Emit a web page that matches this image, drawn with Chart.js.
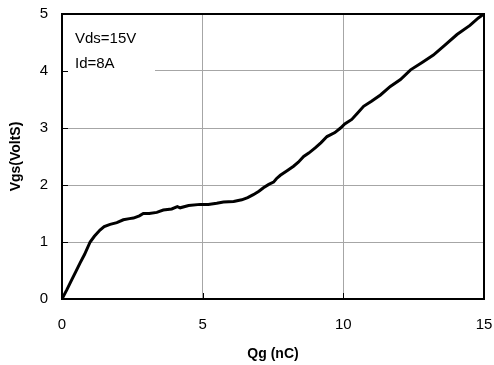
<!DOCTYPE html>
<html>
<head>
<meta charset="utf-8">
<script src="https://cdn.jsdelivr.net/npm/chart.js@4"></script>
<style>
  html, body { margin: 0; padding: 0; background: #fff; }
  #wrap { width: 494px; height: 365px; position: relative; }
</style>
</head>
<body>
<div id="wrap"><canvas id="c"></canvas></div>
<script>
// Gate charge Qg (nC)
const qg = [0, 0.17, 0.34, 0.5, 0.64, 0.8, 1.0, 1.15, 1.35, 1.5, 1.71, 1.95, 2.18, 2.4, 2.54, 2.75, 2.89, 3.1, 3.37, 3.6, 3.9, 4.1, 4.2, 4.5, 4.91, 5.2, 5.5, 5.74, 6.1, 6.39, 6.6, 6.8, 7.0, 7.16, 7.35, 7.52, 7.62, 7.76, 8.0, 8.23, 8.4, 8.59, 8.77, 9.0, 9.2, 9.42, 9.7, 9.9, 10.05, 10.3, 10.5, 10.72, 11.0, 11.32, 11.67, 12.03, 12.39, 12.8, 13.2, 13.6, 14.04, 14.5, 14.8, 15.0];
// Gate-source voltage Vgs (V)
const vgs = [0, 0.16, 0.33, 0.49, 0.63, 0.78, 1.0, 1.1, 1.21, 1.27, 1.31, 1.34, 1.39, 1.41, 1.42, 1.46, 1.50, 1.50, 1.52, 1.56, 1.58, 1.62, 1.60, 1.64, 1.66, 1.66, 1.68, 1.70, 1.71, 1.74, 1.78, 1.83, 1.89, 1.95, 2.01, 2.05, 2.11, 2.17, 2.25, 2.33, 2.40, 2.50, 2.56, 2.65, 2.74, 2.85, 2.92, 3.0, 3.07, 3.15, 3.26, 3.38, 3.47, 3.58, 3.73, 3.85, 4.02, 4.15, 4.28, 4.45, 4.64, 4.80, 4.93, 5.0];
const xTicks = [0, 5, 10, 15];
const yTicks = [0, 1, 2, 3, 4, 5];
const annotation = ["Vds=15V", "Id=8A"];
const xTitle = "Qg (nC)";
const yTitle = "Vgs(VoltS)";

const FONT = "'Liberation Sans', Arial, sans-serif";

const framePlugin = {
  id: 'frame',
  afterDraw(chart) {
    const ctx = chart.ctx;
    const a = chart.chartArea;
    const xs = chart.scales.x, ys = chart.scales.y;
    ctx.save();
    // white box behind annotation
    ctx.fillStyle = '#fff';
    ctx.fillRect(a.left + 1, a.top + 6, 92, 60);
    // inward tick marks
    ctx.strokeStyle = '#000';
    ctx.lineWidth = 1;
    ctx.beginPath();
    yTicks.forEach(v => {
      const y = Math.round(ys.getPixelForValue(v)) + 0.5;
      ctx.moveTo(a.left, y); ctx.lineTo(a.left + 6, y);
    });
    xTicks.forEach(v => {
      const x = Math.round(xs.getPixelForValue(v)) + 0.5;
      ctx.moveTo(x, a.bottom); ctx.lineTo(x, a.bottom - 6);
    });
    ctx.stroke();
    // frame
    ctx.lineWidth = 2;
    ctx.strokeRect(a.left, a.top, a.right - a.left, a.bottom - a.top);
    // annotation text
    ctx.fillStyle = '#000';
    ctx.font = '15px ' + FONT;
    ctx.textBaseline = 'alphabetic';
    ctx.textAlign = 'left';
    ctx.fillText(annotation[0], a.left + 13, a.top + 29);
    ctx.fillText(annotation[1], a.left + 13, a.top + 54);
    ctx.restore();
  }
};

new Chart(document.getElementById('c'), {
  type: 'scatter',
  data: {
    datasets: [{
      data: qg.map((q, i) => ({ x: q, y: vgs[i] })),
      showLine: true,
      borderColor: '#000',
      borderWidth: 3,
      pointRadius: 0,
      tension: 0,
      fill: false
    }]
  },
  options: {
    responsive: true,
    maintainAspectRatio: false,
    animation: false,
    devicePixelRatio: 1,
    layout: { padding: { top: 14, right: 10, left: 0, bottom: 0 } },
    plugins: { legend: { display: false }, tooltip: { enabled: false } },
    scales: {
      x: {
        type: 'linear', min: 0, max: 15,
        afterBuildTicks: s => { s.ticks = xTicks.map(v => ({ value: v })); },
        afterFit: s => { s.height = 66; s.paddingLeft = 0; s.paddingRight = 0; },
        ticks: { color: '#000', font: { family: FONT, size: 15 }, padding: 17, maxRotation: 0 },
        grid: { color: '#a6a6a6', lineWidth: 1, drawTicks: false },
        border: { display: true, color: '#000', width: 2 },
        title: { display: true, text: xTitle, color: '#000', font: { family: FONT, size: 14, weight: 'bold' }, padding: { top: 0, bottom: 2 } }
      },
      y: {
        type: 'linear', min: 0, max: 5,
        afterBuildTicks: s => { s.ticks = yTicks.map(v => ({ value: v })); },
        afterFit: s => { s.width = 62; s.paddingTop = 0; s.paddingBottom = 0; },
        ticks: { color: '#000', font: { family: FONT, size: 15 }, padding: 14 },
        grid: { color: '#a6a6a6', lineWidth: 1, drawTicks: false },
        border: { display: true, color: '#000', width: 2 },
        title: { display: true, text: yTitle, color: '#000', font: { family: FONT, size: 14, weight: 'bold' }, padding: { top: 8, bottom: 0 } }
      }
    }
  },
  plugins: [framePlugin]
});
</script>
</body>
</html>
